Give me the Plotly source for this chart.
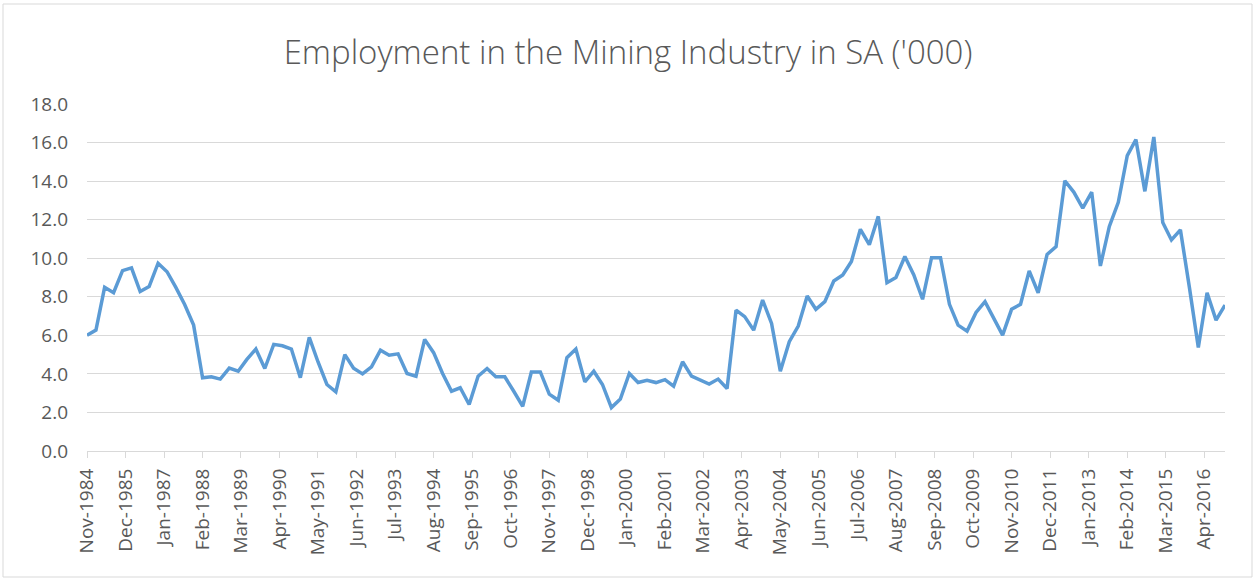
import pandas as pd
import plotly.graph_objects as go

# ---- data ('000 employed, quarterly) ----
start_date = "1984-11-01"
employment = [
    6.0, 6.27, 8.49, 8.21, 9.36, 9.5, 8.27, 8.53, 9.74, 9.3,
    8.5, 7.6, 6.53, 3.8, 3.85, 3.73, 4.3, 4.14, 4.75, 5.29,
    4.28, 5.53, 5.46, 5.29, 3.8, 5.89, 4.63, 3.45, 3.07, 5.0,
    4.3, 4.0, 4.37, 5.23, 4.97, 5.04, 4.02, 3.88, 5.79, 5.1,
    4.02, 3.1, 3.28, 2.41, 3.88, 4.28, 3.85, 3.85, 3.1, 2.32,
    4.1, 4.1, 2.95, 2.63, 4.84, 5.29, 3.59, 4.14, 3.45, 2.25,
    2.69, 4.02, 3.55, 3.67, 3.55, 3.7, 3.36, 4.63, 3.88, 3.67,
    3.47, 3.73, 3.24, 7.31, 6.97, 6.27, 7.83, 6.62, 4.14, 5.67,
    6.48, 8.04, 7.35, 7.75, 8.82, 9.13, 9.83, 11.5, 10.7, 12.17,
    8.73, 9.0, 10.09, 9.13, 7.87, 10.03, 10.03, 7.61, 6.53, 6.22,
    7.19, 7.75, 6.88, 6.01, 7.35, 7.61, 9.34, 8.21, 10.2, 10.6,
    14.02, 13.43, 12.6, 13.43, 9.6, 11.65, 12.9, 15.32, 16.15, 13.47,
    16.29, 11.85, 10.95, 11.47, 8.5, 5.37, 8.21, 6.79, 7.57,
]
dates = pd.date_range(start_date, periods=len(employment), freq="3MS")

tick_labels = [
    "Nov-1984", "Dec-1985", "Jan-1987", "Feb-1988", "Mar-1989", "Apr-1990",
    "May-1991", "Jun-1992", "Jul-1993", "Aug-1994", "Sep-1995", "Oct-1996",
    "Nov-1997", "Dec-1998", "Jan-2000", "Feb-2001", "Mar-2002", "Apr-2003",
    "May-2004", "Jun-2005", "Jul-2006", "Aug-2007", "Sep-2008", "Oct-2009",
    "Nov-2010", "Dec-2011", "Jan-2013", "Feb-2014", "Mar-2015", "Apr-2016",
]
tick_vals = [pd.to_datetime(t, format="%b-%Y") for t in tick_labels]

title_text = "Employment in the Mining Industry in SA ('000)"

# ---- layout geometry ----
W, H = 1256, 580
ML, MR, MT, MB = 87, 31, 104, 129
PW, PH = W - ML - MR, H - MT - MB


def px_to_paper_x(px):
    return (px - ML) / PW


def px_to_paper_y(py):
    return (H - MB - py) / PH


text_color = "#595959"
grid_color = "#d9d9d9"
font_family = "Open Sans, Liberation Sans, Arial, sans-serif"

fig = go.Figure()
fig.add_trace(
    go.Scatter(
        x=dates,
        y=employment,
        mode="lines",
        line=dict(color="#5B9BD5", width=3.5),
        hoverinfo="x+y",
        showlegend=False,
    )
)

fig.update_layout(
    width=W,
    height=H,
    margin=dict(l=ML, r=MR, t=MT, b=MB, pad=0),
    paper_bgcolor="white",
    plot_bgcolor="white",
    title=dict(
        text=title_text,
        x=0.5,
        xref="container",
        xanchor="center",
        y=1 - 52 / H,
        yref="container",
        yanchor="middle",
        font=dict(family=font_family, size=33, color=text_color, weight=300),
    ),
    xaxis=dict(
        type="date",
        range=[dates[0], dates[-1]],
        tickmode="array",
        tickvals=tick_vals,
        ticktext=tick_labels,
        tickangle=-90,
        ticks="outside",
        ticklen=6,
        tickcolor=grid_color,
        tickwidth=1,
        showgrid=False,
        showline=True,
        linecolor=grid_color,
        linewidth=1,
        zeroline=False,
        tickfont=dict(family=font_family, size=19, color=text_color),
        ticklabelstandoff=3,
    ),
    yaxis=dict(
        range=[0, 18],
        dtick=2,
        tick0=0,
        tickformat=".1f",
        showgrid=True,
        gridcolor=grid_color,
        gridwidth=1,
        zeroline=False,
        showline=False,
        ticks="",
        tickfont=dict(family=font_family, size=19, color=text_color),
        ticklabelstandoff=18,
    ),
    shapes=[
        dict(
            type="rect",
            xref="paper",
            yref="paper",
            x0=px_to_paper_x(3),
            x1=px_to_paper_x(1252),
            y0=px_to_paper_y(577),
            y1=px_to_paper_y(4),
            line=dict(color=grid_color, width=1),
            fillcolor="rgba(0,0,0,0)",
            layer="below",
        )
    ],
)

fig.write_html("out.html")
